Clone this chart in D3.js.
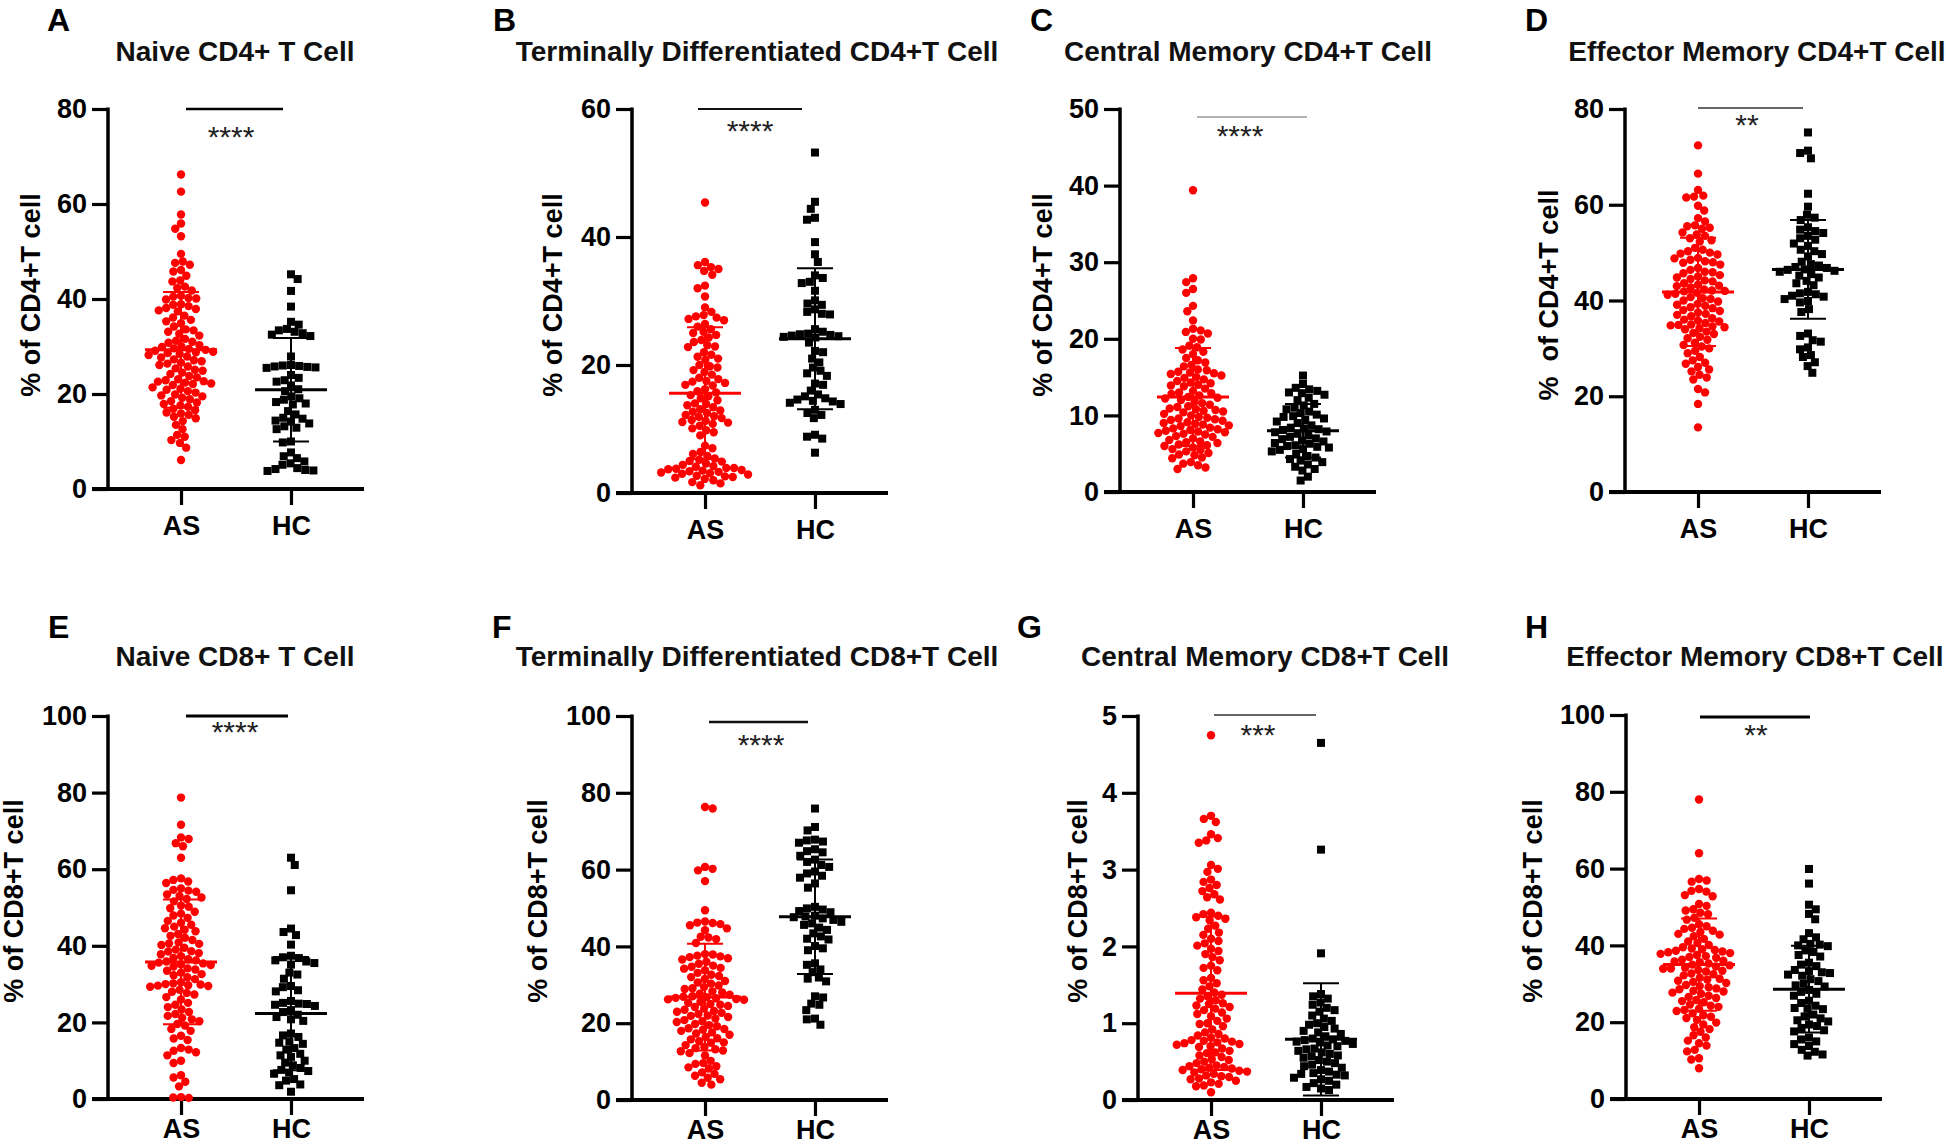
<!DOCTYPE html>
<html><head><meta charset="utf-8">
<script src="https://cdn.jsdelivr.net/npm/d3@7"></script>
<style>
body{margin:0;background:#fff}
svg{display:block}
text{font-family:"Liberation Sans",Arial,Helvetica,sans-serif}
</style>
</head><body>
<svg id="chart" width="1946" height="1146"></svg>
<script>
// ---------------- DATA ----------------
const groups = ["AS", "HC"];
const panelLetters = ["A","B","C","D","E","F","G","H"];
const panelTitles = [
  "Naive CD4+ T Cell","Terminally Differentiated CD4+T Cell","Central Memory CD4+T Cell","Effector Memory CD4+T Cell",
  "Naive CD8+ T Cell","Terminally Differentiated CD8+T Cell","Central Memory CD8+T Cell","Effector Memory CD8+T Cell"];
const yAxisLabels = ["% of CD4+T cell","% of CD4+T cell","% of CD4+T cell","%\u00a0\u00a0of CD4+T cell",
  "% of CD8+T cell","% of CD8+T cell","% of CD8+T cell","% of CD8+T cell"];
const yMaxValues = [80, 60, 50, 80, 100, 100, 5, 100];
const yTickSteps = [20, 20, 10, 20, 20, 20, 1, 20];
const sigLabels = ["****","****","****","**","****","****","***","**"];
const meanAS = [29.3, 15.6, 12.4, 41.8, 35.8, 26.8, 1.39, 35.0];
const sdAS   = [12.2, 10.3, 6.4, 11.3, 16.3, 13.9, 1.00, 12.0];
const meanHC = [20.9, 24.1, 8.0, 46.5, 22.3, 47.7, 0.79, 28.6];
const sdHC   = [10.9, 11.0, 3.5, 10.3, 14.8, 14.9, 0.73, 11.3];

const naiveCD4_AS = [66.2,62.6,57.8,55.9,54.8,53.2,49.5,47.9,47.6,47.2,46.1,45.8,44.9,43.7,43.9,42.6,42.3,41.8,40.7,40.5,40.2,39.9,40.1,38.8,38.5,38.1,37.9,37.4,37.6,36.5,36.1,35.3,34.9,34.2,33.6,33.1,33.4,32.3,31.6,31.2,30.8,31.0,30.3,29.9,29.6,29.5,29.3,29.1,28.9,28.8,28.6,28.4,27.7,27.3,26.9,26.6,27.1,26.4,25.8,25.4,24.9,24.2,25.1,24.5,23.5,22.9,22.7,22.6,22.4,22.2,21.9,23.1,21.1,20.6,19.9,19.7,20.3,20.9,19.5,18.9,18.2,17.6,17.3,18.5,17.9,16.6,16.1,15.6,14.9,14.3,15.9,15.2,13.5,12.6,11.4,11.0,10.3,9.7,8.7,6.1,30.0,28.2,22.1,23.8,32.7,35.6,19.2,16.9,26.1,38.9,21.4,27.9];
const naiveCD4_HC = [45.2,44.2,41.7,38.4,35.2,34.6,33.7,33.4,32.8,32.5,32.2,33.1,27.9,26.0,25.8,25.6,25.5,25.7,26.1,25.9,23.4,22.9,22.6,21.8,21.0,20.6,19.5,18.8,18.3,18.0,17.8,16.4,15.7,15.0,14.8,14.4,14.2,13.2,12.9,12.6,10.0,9.8,7.7,6.9,6.5,5.4,5.8,4.2,3.9,3.8,4.0,4.4,24.0,19.1,13.8,5.1];

const termCD4_AS = [45.4,36.1,35.6,35.3,35.0,34.7,34.1,32.4,32.0,30.7,29.0,28.3,27.8,27.6,27.2,27.0,26.4,26.0,25.6,25.2,25.0,24.3,23.9,23.6,23.1,22.8,22.9,22.0,21.6,21.0,20.8,20.0,19.6,19.2,18.9,18.5,17.8,17.4,17.2,16.9,16.8,17.5,15.9,15.7,15.3,14.8,14.5,14.0,13.7,13.4,12.9,12.5,13.1,12.7,12.2,11.9,11.7,11.4,11.1,11.0,10.5,10.1,9.8,9.5,7.4,7.0,6.4,6.1,5.4,5.2,5.0,4.9,4.6,4.4,4.1,3.9,3.8,3.7,3.6,3.5,3.4,3.1,3.2,3.3,2.9,2.7,2.5,2.2,2.0,2.4,1.7,1.5,1.2,3.9,3.0,4.2,2.6,12.0,11.3,10.8,13.9,15.1,16.2,18.0,19.8,21.3,24.7,27.4,9.0,5.8];
const termCD4_HC = [53.2,45.5,44.4,43.0,42.7,39.2,37.3,36.1,34.0,33.6,33.0,32.8,31.6,30.1,29.6,29.4,28.7,28.3,28.0,27.9,25.6,24.9,24.7,24.5,24.8,24.6,24.4,25.2,23.5,22.2,22.0,21.0,20.4,19.6,19.1,18.7,18.3,17.1,16.9,16.0,15.4,15.1,14.8,14.6,14.4,14.1,13.9,13.0,12.5,12.2,11.7,9.1,8.8,8.5,6.3,24.3,14.3];

const cmCD4_AS = [39.4,27.9,27.4,26.5,26.0,24.3,23.6,22.4,21.3,21.1,20.9,20.7,19.9,20.0,19.1,18.9,18.6,18.3,17.5,17.2,16.9,16.6,16.4,15.9,15.7,15.5,15.4,15.2,14.9,15.0,14.5,14.3,14.0,13.8,13.5,13.2,12.9,12.6,12.3,12.0,11.8,11.4,11.1,10.8,10.5,10.2,10.0,10.4,9.8,9.6,9.3,9.1,8.9,8.7,9.5,8.4,8.2,8.0,7.8,7.6,8.1,7.9,7.2,7.0,6.8,6.5,6.2,6.0,6.6,5.6,5.3,5.1,4.8,4.5,4.4,3.9,3.5,3.2,3.0,8.3,8.6,7.7,7.5,9.0,9.7,10.6,10.9,11.2,12.2,12.8,13.0,13.9,14.7,15.6,16.0,6.4,6.1,5.8,5.5,4.9,11.6,10.7,9.4,8.8,7.3,14.2,12.4,3.7,18.0];
const cmCD4_HC = [15.2,14.1,13.6,13.2,12.9,12.7,13.4,13.0,12.0,11.5,11.0,10.8,10.3,10.1,9.9,9.6,9.2,9.0,9.8,8.7,8.4,8.2,7.9,7.6,7.4,7.2,8.1,6.9,6.6,6.3,6.0,5.8,5.6,6.1,5.9,5.3,5.0,4.7,4.5,4.3,3.9,3.6,3.3,3.0,2.8,2.0,1.5,8.3,7.8,7.0,6.4,5.5,9.4,10.5,4.1,11.3,12.3,6.7];

const emCD4_AS = [72.4,66.5,63.1,61.7,61.5,61.9,59.8,58.8,57.2,56.5,55.7,55.2,55.5,55.0,54.2,53.5,53.0,52.3,52.6,50.6,50.3,50.0,49.6,48.8,48.2,47.9,48.5,48.0,46.8,46.4,45.7,45.0,45.3,44.5,44.0,43.6,43.0,42.3,42.0,41.6,41.2,40.7,40.3,39.8,39.3,38.9,38.4,38.0,37.5,37.0,36.7,35.8,35.3,34.8,34.4,34.2,34.6,35.0,33.5,33.0,32.4,31.8,31.2,30.7,30.0,29.5,28.2,27.5,26.8,26.1,25.6,24.5,23.9,23.5,21.5,20.8,18.4,13.5,47.5,46.0,44.8,43.3,42.7,41.9,41.4,40.0,39.1,37.8,36.3,35.6,34.9,34.0,33.2,32.1,30.4,29.0,27.0,25.2,48.9,49.8,51.0,53.8,45.9,44.2,42.1,38.6,36.0,40.5,43.1,37.2];
const emCD4_HC = [75.1,71.3,70.8,69.7,62.3,59.6,57.9,57.3,56.8,55.3,54.8,54.1,53.5,53.0,54.5,51.9,51.4,50.6,50.3,49.7,49.2,48.1,47.6,47.0,46.5,46.2,46.4,46.8,46.0,45.2,44.8,44.1,43.6,43.2,41.8,41.3,40.8,41.0,40.3,39.9,39.6,38.2,37.6,33.1,32.6,31.7,31.4,30.2,29.8,28.6,28.2,27.1,26.3,24.9,45.5,47.3,41.5,52.7];

const naiveCD8_AS = [78.7,71.6,68.3,67.9,66.8,66.0,63.0,57.6,57.2,56.8,56.4,55.0,54.6,54.4,54.1,53.4,53.0,52.6,52.2,51.6,50.5,50.2,49.8,48.4,47.9,47.3,46.5,46.0,45.5,45.0,44.2,43.8,43.1,42.6,42.1,41.5,40.9,40.6,40.2,39.5,39.0,38.5,38.1,37.8,37.3,36.8,36.2,35.9,35.6,35.2,35.0,34.6,34.1,33.5,33.0,32.6,32.3,31.8,31.3,30.5,30.0,29.7,29.5,29.3,29.9,28.5,28.0,27.3,26.6,26.0,25.1,24.6,24.0,23.4,22.7,21.7,21.2,20.8,20.3,19.6,19.2,18.3,17.8,16.5,15.8,15.4,13.3,12.9,12.6,12.2,11.4,10.0,9.4,6.2,5.6,4.5,3.3,0.5,0.3,0.4,36.5,35.4,34.8,30.2,29.6,40.5,44.6,48.9,27.7,22.2,38.6,33.8];
const naiveCD8_HC = [63.0,61.1,54.5,44.5,43.6,42.8,40.3,37.4,37.0,36.2,35.9,35.5,35.1,36.8,33.0,32.5,31.4,29.5,29.2,28.4,28.1,25.6,25.1,24.9,24.6,24.8,24.3,23.2,22.7,22.0,21.4,20.8,20.4,17.1,16.6,16.2,15.0,14.7,14.4,13.3,12.9,11.8,11.4,11.0,10.0,9.5,8.8,8.1,7.6,7.3,6.9,6.6,5.2,4.8,3.8,3.6,1.9];

const termCD8_AS = [76.3,75.9,60.7,59.8,60.2,57.0,49.4,46.5,46.2,45.8,46.1,45.5,44.7,44.2,42.5,42.3,41.9,40.9,38.0,37.6,37.2,36.9,36.6,37.4,36.0,35.5,34.7,34.2,33.8,33.1,32.6,32.0,31.5,31.0,30.3,29.8,29.4,28.9,28.3,28.0,27.4,27.0,26.8,26.5,26.3,26.1,26.9,26.6,25.6,25.0,24.5,24.2,23.8,23.5,23.0,22.4,22.0,21.6,21.2,20.8,20.3,19.8,19.2,18.7,18.3,18.0,17.6,17.0,16.4,15.8,15.3,14.9,14.3,13.8,13.2,12.7,12.2,10.2,9.6,9.4,8.8,8.2,8.5,7.2,6.8,6.3,5.8,5.4,4.5,4.0,27.7,26.2,25.3,24.8,23.2,22.7,21.9,20.5,19.5,18.5,17.3,16.1,15.0,13.5,29.1,30.6,32.3,34.4,35.0,37.9,11.6,12.9];
const termCD8_HC = [75.9,71.1,70.2,67.8,67.3,67.6,67.0,65.3,64.8,64.5,63.6,62.6,62.0,61.2,60.7,59.5,59.0,58.4,57.9,56.4,55.3,50.3,49.9,49.2,48.9,49.6,48.0,47.6,47.3,46.9,46.4,46.0,45.6,47.8,44.9,44.3,43.4,42.6,41.8,42.0,40.1,39.5,39.0,35.6,35.2,34.0,33.3,31.9,31.6,30.9,27.0,26.7,25.1,24.8,23.4,21.2,21.0,19.6];

const cmCD8_AS = [4.75,3.70,3.66,3.62,3.46,3.41,3.38,3.35,3.06,3.01,2.97,2.87,2.84,2.80,2.76,2.72,2.68,2.64,2.61,2.44,2.42,2.40,2.38,2.36,2.34,2.27,2.23,2.18,2.15,2.10,2.07,2.04,2.01,1.97,1.94,1.90,1.86,1.82,1.75,1.72,1.69,1.59,1.56,1.52,1.48,1.44,1.40,1.37,1.35,1.32,1.30,1.26,1.23,1.21,1.19,1.17,1.12,1.09,1.06,1.03,0.96,0.92,0.88,0.84,0.80,0.78,0.77,0.76,0.74,0.72,0.70,0.67,0.64,0.61,0.58,0.56,0.53,0.50,0.48,0.44,0.43,0.42,0.41,0.40,0.39,0.38,0.37,0.34,0.32,0.30,0.28,0.27,0.23,0.21,0.19,0.18,0.10,0.81,0.75,0.73,0.45,0.36,0.31,0.62,1.25,1.14,1.00,0.99,0.86,0.69,0.25,0.52];
const cmCD8_HC = [4.65,3.26,1.91,1.38,1.35,1.32,1.27,1.24,1.20,1.17,1.15,1.06,1.03,1.00,0.98,0.95,0.93,0.90,0.88,0.86,0.83,0.80,0.78,0.76,0.75,0.73,0.70,0.67,0.64,0.62,0.60,0.58,0.55,0.52,0.50,0.48,0.46,0.42,0.39,0.37,0.35,0.33,0.32,0.29,0.27,0.25,0.22,0.20,0.17,0.15,0.13,0.79,0.77,0.71,0.57,0.44,0.66,1.10,0.34];

const emCD8_AS = [78.0,64.0,57.3,56.9,56.6,54.7,54.2,54.0,53.1,52.8,50.8,50.3,49.4,49.1,48.5,48.1,47.2,46.7,45.5,45.0,44.3,43.8,43.5,43.0,42.4,41.7,41.0,40.1,39.5,39.0,38.6,38.2,38.0,37.8,38.4,37.2,36.8,36.3,35.8,35.3,35.0,34.5,34.2,33.9,33.6,33.2,32.7,32.2,31.6,31.1,30.8,30.2,29.7,29.1,28.6,28.2,28.0,27.4,26.9,26.3,25.8,25.5,24.6,24.0,23.5,22.9,22.3,21.8,21.4,20.6,19.4,18.7,18.2,17.5,16.6,16.0,15.2,14.5,13.9,12.8,12.4,10.6,10.3,8.0,38.8,37.5,36.0,35.6,34.8,34.0,33.4,32.5,31.3,30.5,29.4,28.8,27.7,26.6,25.2,24.3,23.2,21.1,19.9,37.0,39.2,40.6,42.8,44.6];
const emCD8_HC = [59.9,56.1,50.6,49.4,48.2,46.8,43.2,42.1,41.6,40.4,40.2,39.8,40.0,38.7,38.3,37.5,37.1,35.5,35.0,34.6,33.6,33.3,32.8,32.4,32.1,33.0,31.2,30.7,30.0,29.6,29.3,28.4,27.9,27.4,26.9,25.6,25.0,24.3,23.7,23.5,23.4,22.0,21.5,21.0,20.5,20.2,19.4,19.0,18.5,17.9,17.6,16.0,15.5,15.0,14.3,13.8,12.8,12.3,11.6,11.3];

const seriesAS = [naiveCD4_AS, termCD4_AS, cmCD4_AS, emCD4_AS, naiveCD8_AS, termCD8_AS, cmCD8_AS, emCD8_AS];
const seriesHC = [naiveCD4_HC, termCD4_HC, cmCD4_HC, emCD4_HC, naiveCD8_HC, termCD8_HC, cmCD8_HC, emCD8_HC];

// ---------------- LAYOUT ----------------
const layout = [
  {ax:108,  yTop:109, yZero:489,  lx:47,   tx:235,  ylx:40,   sig:[186,283,109,2.5,"#000",231,130]},
  {ax:632,  yTop:109, yZero:493,  lx:493,  tx:757,  ylx:562,  sig:[698,802,109,2,"#111",750,124]},
  {ax:1120, yTop:109, yZero:492,  lx:1030, tx:1248, ylx:1052, sig:[1197,1307,117,1.2,"#666",1240,129]},
  {ax:1625, yTop:109, yZero:492,  lx:1525, tx:1757, ylx:1558, sig:[1698,1803,108,1.6,"#333",1747,118]},
  {ax:108,  yTop:716, yZero:1099, lx:48,   tx:235,  ylx:23,   sig:[186,288,716,3,"#000",235,725]},
  {ax:632,  yTop:716, yZero:1100, lx:492,  tx:757,  ylx:547,  sig:[709,808,722,2.5,"#111",761,738]},
  {ax:1138, yTop:716, yZero:1100, lx:1017, tx:1265, ylx:1087, sig:[1214,1316,715,1.6,"#333",1258,728]},
  {ax:1626, yTop:715, yZero:1099, lx:1525, tx:1755, ylx:1542, sig:[1700,1810,717,3,"#000",1756,728]}
];
const rowY = [{letter:31, title:61, ylab:295, xpad:11}, {letter:638, title:666, ylab:901, xpad:4}];
const colors = {AS:"#ff0000", HC:"#000000"};
const FONT = "'Liberation Sans', Arial, Helvetica, sans-serif";

const svg = d3.select("#chart");

function swarm(vals, yS, cx, d) {
  const pts = vals.map(v => ({v, y: yS(v)})).sort((a,b) => a.y - b.y);
  const placed = [];
  let flip = 1;
  pts.forEach(p => {
    const forb = [];
    placed.forEach(q => {
      const dy = Math.abs(q.y - p.y);
      if (dy < d) { const h = Math.sqrt(d*d - dy*dy); forb.push([q.x - h, q.x + h]); }
    });
    let cands = [cx];
    forb.forEach(f => cands.push(f[0], f[1]));
    cands = cands.filter(c => forb.every(f => c <= f[0] + 1e-6 || c >= f[1] - 1e-6));
    cands.sort((a,b) => (Math.abs(a-cx) - Math.abs(b-cx)) || ((a-b) * flip));
    flip = -flip;
    p.x = cands[0];
    placed.push(p);
  });
  return pts;
}

layout.forEach((L, i) => {
  const row = i < 4 ? 0 : 1;
  const R = rowY[row];
  const g = svg.append("g");
  const y = d3.scaleLinear().domain([0, yMaxValues[i]]).range([L.yZero, L.yTop]);
  const x = d3.scalePoint().domain(groups).range([L.ax, L.ax + 256]).padding(0.664);

  // panel letter & title
  g.append("text").attr("x", L.lx).attr("y", R.letter).attr("font-size", 32).attr("font-weight", "bold")
    .attr("fill", "#000").text(panelLetters[i]);
  g.append("text").attr("x", L.tx).attr("y", R.title).attr("text-anchor", "middle").attr("font-size", 28)
    .attr("font-weight", "bold").attr("fill", "#111").text(panelTitles[i]);

  // y label
  g.append("text").attr("transform", `translate(${L.ylx},${R.ylab}) rotate(-90)`).attr("text-anchor", "middle")
    .attr("font-size", 27).attr("font-weight", "bold").attr("fill", "#000").style("white-space", "pre").text(yAxisLabels[i]);

  // axes
  const ticks = d3.range(0, yMaxValues[i] + 1e-9, yTickSteps[i]);
  const ya = g.append("g").attr("transform", `translate(${L.ax},0)`)
    .call(d3.axisLeft(y).tickValues(ticks).tickSize(16).tickPadding(5).tickFormat(d3.format("d")));
  ya.select(".domain").remove();
  ya.selectAll(".tick line").attr("stroke", "#000").attr("stroke-width", 3.2);
  ya.selectAll(".tick text").attr("font-size", 27).attr("font-weight", "bold").attr("font-family", FONT).attr("fill", "#000");

  const xa = g.append("g").attr("transform", `translate(0,${L.yZero})`)
    .call(d3.axisBottom(x).tickSize(16).tickPadding(R.xpad));
  xa.select(".domain").remove();
  xa.selectAll(".tick line").attr("stroke", "#000").attr("stroke-width", 3.2);
  xa.selectAll(".tick text").attr("font-size", 27).attr("font-weight", "bold").attr("font-family", FONT).attr("fill", "#000");

  g.append("line").attr("x1", L.ax).attr("x2", L.ax).attr("y1", L.yTop - 1.6).attr("y2", L.yZero)
    .attr("stroke", "#000").attr("stroke-width", 3.5);
  g.append("line").attr("x1", L.ax - 16).attr("x2", L.ax + 256).attr("y1", L.yZero).attr("y2", L.yZero)
    .attr("stroke", "#000").attr("stroke-width", 3.8);

  // points
  const asPts = swarm(seriesAS[i], y, x("AS"), 7.8);
  const hcPts = swarm(seriesHC[i], y, x("HC"), 8.2);
  g.append("g").selectAll("circle").data(asPts).join("circle")
    .attr("cx", d => d.x).attr("cy", d => d.y).attr("r", 4.2).attr("fill", colors.AS);
  g.append("g").selectAll("rect").data(hcPts).join("rect")
    .attr("x", d => d.x - 4).attr("y", d => d.y - 4).attr("width", 8).attr("height", 8).attr("fill", colors.HC);

  // mean ± SD
  [["AS", meanAS[i], sdAS[i]], ["HC", meanHC[i], sdHC[i]]].forEach(([grp, m, s]) => {
    const cx = x(grp), c = colors[grp];
    const lo = Math.max(0, m - s), hi = m + s;
    g.append("line").attr("x1", cx).attr("x2", cx).attr("y1", y(lo)).attr("y2", y(hi)).attr("stroke", c).attr("stroke-width", 2);
    [lo, hi].forEach(v => g.append("line").attr("x1", cx - 18).attr("x2", cx + 18).attr("y1", y(v)).attr("y2", y(v))
      .attr("stroke", c).attr("stroke-width", 2));
    g.append("line").attr("x1", cx - 36).attr("x2", cx + 36).attr("y1", y(m)).attr("y2", y(m))
      .attr("stroke", c).attr("stroke-width", 3);
  });

  // significance
  const [sx1, sx2, sy, sw, sc, stx, sty] = L.sig;
  g.append("line").attr("x1", sx1).attr("x2", sx2).attr("y1", sy).attr("y2", sy).attr("stroke", sc).attr("stroke-width", sw);
  g.append("text").attr("x", stx).attr("y", sty + 17).attr("text-anchor", "middle").attr("font-size", 30)
    .attr("fill", "#222").text(sigLabels[i]);
});
</script>
</body></html>
